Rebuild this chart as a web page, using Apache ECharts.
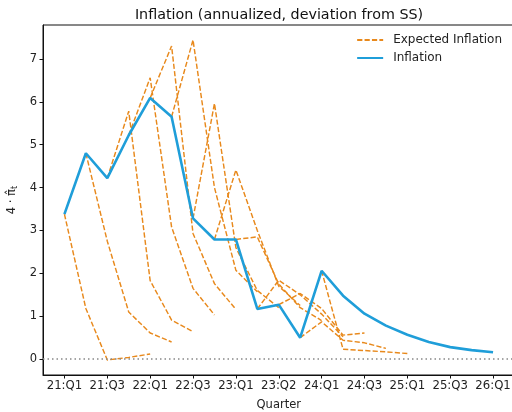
<!DOCTYPE html>
<html>
<head>
<meta charset="utf-8">
<script src="https://cdn.jsdelivr.net/npm/echarts@6/dist/echarts.min.js"></script>
<style>
  html, body { margin: 0; padding: 0; background: #fff; }
  #chart { width: 512px; height: 412px; }
</style>
</head>
<body>
<div id="chart"></div>
<script>
// Quarterly tick labels (every second quarter)
const tickLabels = ['21:Q1', '21:Q3', '22:Q1', '22:Q3', '23:Q1', '23:Q2', '24:Q1', '24:Q3', '25:Q1', '25:Q3', '26:Q1'];
const tickPositions = [0, 2, 4, 6, 8, 10, 12, 14, 16, 18, 20];
const yTicks = [0, 1, 2, 3, 4, 5, 6, 7];

// Realized inflation, one value per quarter starting 21:Q1
const inflation = [3.38, 4.80, 4.22, 5.22, 6.09, 5.65, 3.28, 2.79, 2.79, 1.17, 1.27,
                   0.50, 2.06, 1.48, 1.06, 0.78, 0.57, 0.40, 0.28, 0.21, 0.16];

// Expected inflation paths: each starts at the quarter given in expectedStart
const expectedStart = [0, 1, 2, 3, 4, 5, 6, 7, 8, 9, 10, 11, 12];
const expectedPaths = [
  [3.38, 1.18, -0.02, 0.04, 0.12],
  [4.80, 2.75, 1.10, 0.61, 0.40],
  [4.22, 5.78, 1.83, 0.91, 0.64],
  [5.22, 6.56, 3.08, 1.65, 1.03],
  [6.09, 7.30, 2.93, 1.76, 1.16],
  [5.65, 7.44, 4.00, 2.07, 1.57],
  [3.28, 5.96, 2.60, 1.60, 1.20],
  [2.79, 4.41, 3.00, 1.70, 1.25],
  [2.79, 2.85, 1.75, 1.20, 0.90],
  [1.17, 1.84, 1.50, 1.05, 0.52],
  [1.27, 1.53, 1.18, 0.56, 0.61],
  [0.50, 0.87, 0.44, 0.38, 0.25],
  [2.06, 0.23, 0.20, 0.17, 0.13]
];

const BLUE = '#1f9ed9';
const ORANGE = '#e8891c';
const FONT = 'DejaVu Sans';

const expectedSeries = expectedPaths.map((path, k) => ({
  name: 'Expected Inflation',
  type: 'line',
  symbol: 'none',
  data: path.map((v, j) => [expectedStart[k] + j, v]),
  lineStyle: { color: ORANGE, width: 1.45, type: [5.2, 2.2] },
  itemStyle: { color: ORANGE },
  z: 2,
  animation: false
}));

const inflationSeries = {
  name: 'Inflation',
  type: 'line',
  symbol: 'none',
  data: inflation.map((v, i) => [i, v]),
  lineStyle: { color: BLUE, width: 2.6 },
  itemStyle: { color: BLUE },
  z: 3,
  animation: false,
  markLine: {
    silent: true,
    symbol: 'none',
    label: { show: false },
    lineStyle: { color: '#888', type: [1.5, 3], width: 1.5 },
    data: [{ yAxis: 0 }],
    animation: false
  }
};

const chart = echarts.init(document.getElementById('chart'), null, { renderer: 'canvas' });
chart.setOption({
  backgroundColor: '#fff',
  animation: false,
  textStyle: { fontFamily: FONT },
  title: {
    text: 'Inflation (annualized, deviation from SS)',
    left: 274, top: 3, textAlign: 'center',
    textStyle: { fontFamily: FONT, fontSize: 14.3, fontWeight: 'normal', color: '#111' }
  },
  legend: {
    right: 7, top: 31, padding: 3,
    orient: 'vertical',
    itemWidth: 26, itemHeight: 10, itemGap: 6,
    itemStyle: { opacity: 0 },
    textStyle: { fontFamily: FONT, fontSize: 12, color: '#222', padding: [0, 0, 0, 5] },
    data: ['Expected Inflation', 'Inflation']
  },
  grid: {
    left: 43, top: 25, width: 471.5, height: 350,
    outerBoundsMode: 'none', containLabel: false,
    show: true, borderColor: '#111', borderWidth: 1, backgroundColor: 'transparent'
  },
  xAxis: {
    type: 'value', min: -1, max: 21,
    name: 'Quarter', nameLocation: 'middle', nameGap: 24,
    nameTextStyle: { fontFamily: FONT, fontSize: 11.5, color: '#222' },
    axisLine: { show: true, onZero: false, lineStyle: { color: '#111', width: 1 } },
    axisTick: { show: true, length: 3.5, lineStyle: { color: '#111' }, customValues: tickPositions },
    axisLabel: {
      fontFamily: FONT, fontSize: 11.7, color: '#222', margin: 5,
      customValues: tickPositions,
      formatter: v => tickLabels[tickPositions.indexOf(v)]
    },
    splitLine: { show: false }
  },
  yAxis: {
    type: 'value', min: -0.37, max: 7.79,
    name: '{n|4 · π̂}{s|t}', nameLocation: 'middle', nameGap: 18, nameRotate: 90,
    nameTextStyle: {
      rich: {
        n: { fontFamily: FONT, fontSize: 11.5, color: '#222' },
        s: { fontFamily: FONT, fontSize: 8, color: '#222', verticalAlign: 'bottom', padding: [6, 0, 0, 0] }
      }
    },
    axisLine: { show: true, onZero: false, lineStyle: { color: '#111', width: 1 } },
    axisTick: { show: true, length: 3.5, lineStyle: { color: '#111' }, customValues: yTicks },
    axisLabel: { fontFamily: FONT, fontSize: 11.5, color: '#222', margin: 6, customValues: yTicks },
    splitLine: { show: false }
  },
  series: [...expectedSeries, inflationSeries]
});
</script>
</body>
</html>
